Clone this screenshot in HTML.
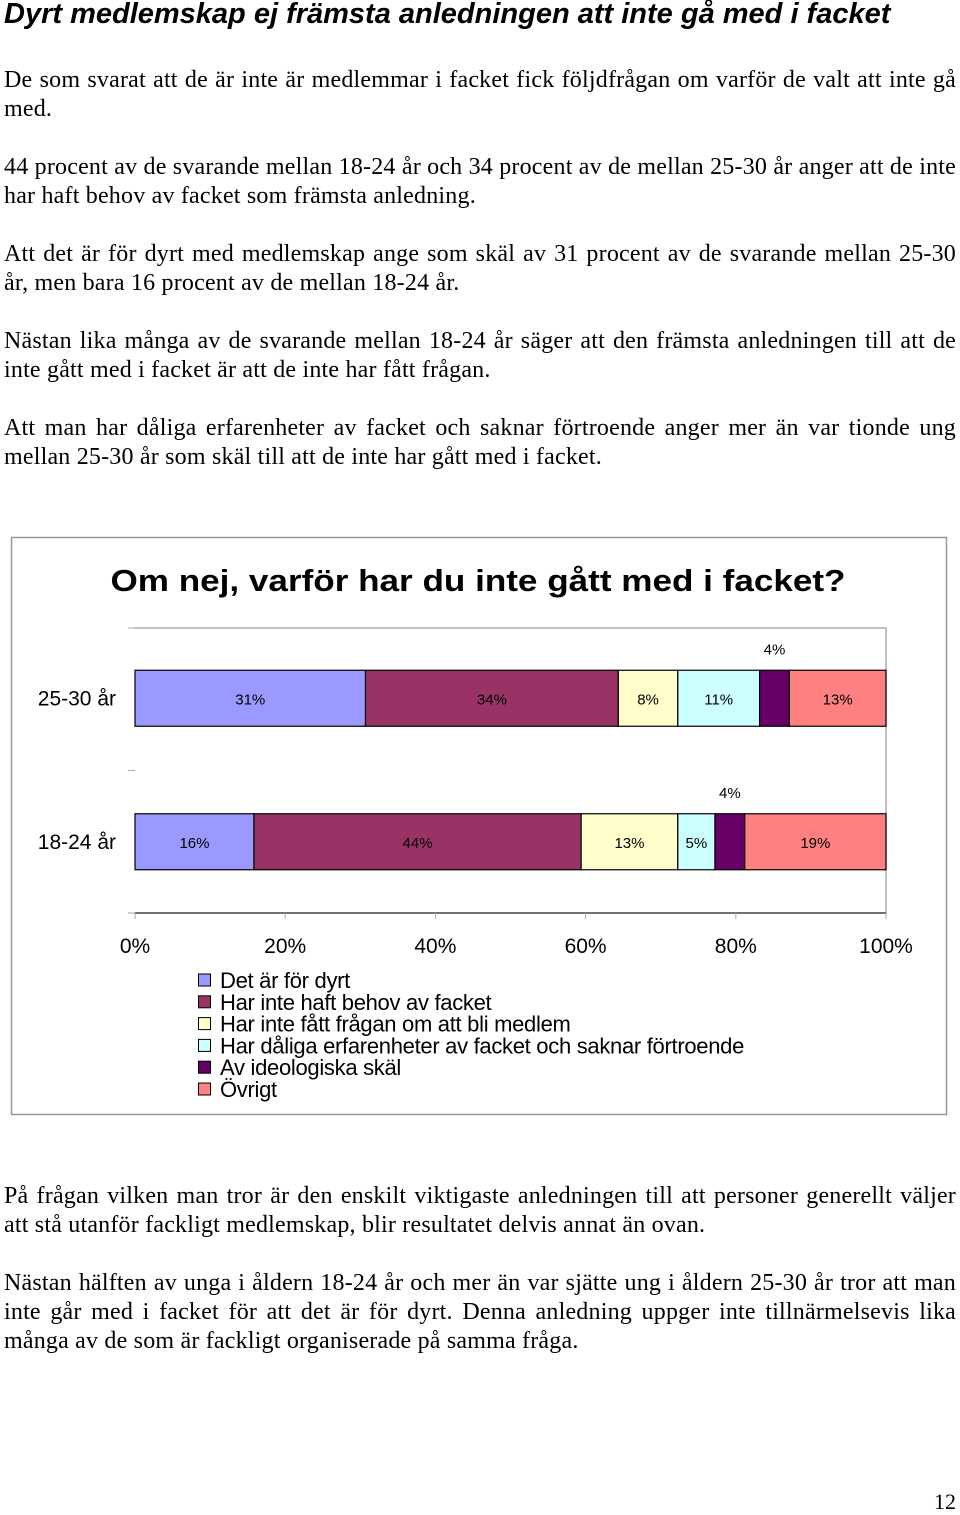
<!DOCTYPE html>
<html><head><meta charset="utf-8"><style>
body{margin:0;width:960px;height:1513px;background:#fff;position:relative;overflow:hidden}
.t{position:absolute;left:4px;top:-1px;font:bold italic 29px "Liberation Sans",sans-serif;white-space:nowrap;line-height:30px}
.p{position:absolute;left:4px;width:952px;font:24px/29px "Liberation Serif",serif;letter-spacing:0.2px;text-align:justify;margin:0;color:#000}
.pn{position:absolute;right:4px;top:1489px;font:22px "Liberation Serif",serif}
</style></head><body>
<div class="t">Dyrt medlemskap ej främsta anledningen att inte gå med i facket</div>
<p class="p" style="top:66px">De som svarat att de är inte är medlemmar i facket fick följdfrågan om varför de valt att inte gå med.</p>
<p class="p" style="top:153px">44 procent av de svarande mellan 18-24 år och 34 procent av de mellan 25-30 år anger att de inte har haft behov av facket som främsta anledning.</p>
<p class="p" style="top:240px">Att det är för dyrt med medlemskap ange som skäl av 31 procent av de svarande mellan 25-30 år, men bara 16 procent av de mellan 18-24 år.</p>
<p class="p" style="top:327px">Nästan lika många av de svarande mellan 18-24 år säger att den främsta anledningen till att de inte gått med i facket är att de inte har fått frågan.</p>
<p class="p" style="top:414px">Att man har dåliga erfarenheter av facket och saknar förtroende anger mer än var tionde ung mellan 25-30 år som skäl till att de inte har gått med i facket.</p>
<svg style="position:absolute;left:0;top:0" width="960" height="1513">
<rect x="11.5" y="537.5" width="935" height="577" fill="#fff" stroke="#999" stroke-width="1.5"/>
<text x="478" y="591" text-anchor="middle" textLength="735" lengthAdjust="spacingAndGlyphs" font-family="Liberation Sans, sans-serif" font-weight="bold" font-size="31">Om nej, varför har du inte gått med i facket?</text>
<g id="g"></g>
</svg>
<p class="p" style="top:1182px">På frågan vilken man tror är den enskilt viktigaste anledningen till att personer generellt väljer att stå utanför fackligt medlemskap, blir resultatet delvis annat än ovan.</p>
<p class="p" style="top:1269px">Nästan hälften av unga i åldern 18-24 år och mer än var sjätte ung i åldern 25-30 år tror att man inte går med i facket för att det är för dyrt. Denna anledning uppger inte tillnärmelsevis lika många av de som är fackligt organiserade på samma fråga.</p>
<div class="pn">12</div>
<script>
const categories=["25-30 år","18-24 år"];
const seriesNames=["Det är för dyrt","Har inte haft behov av facket","Har inte fått frågan om att bli medlem","Har dåliga erfarenheter av facket och saknar förtroende","Av ideologiska skäl","Övrigt"];
const values2530=[31,34,8,11,4,13];
const values1824=[16,44,13,5,4,19];
const tickLabels=["0%","20%","40%","60%","80%","100%"];
const colors=["#9999FF","#993366","#FFFFCC","#CCFFFF","#660066","#FF8080"];
const ns="http://www.w3.org/2000/svg",g=document.getElementById('g');
const X0=135,X1=886,Y0=628,Y1=913;
const xs=f=>X0+f*(X1-X0);
function mk(t,a,txt){const e=document.createElementNS(ns,t);for(const k in a)e.setAttribute(k,a[k]);if(txt!=null)e.textContent=txt;g.appendChild(e);return e;}
const fam="Liberation Sans, sans-serif";
let e=mk('path',{d:`M${X0} ${Y0}H${X1}V${Y1}`,fill:'none',stroke:'#aaa','stroke-width':1.5});

e=mk('line',{x1:X0,y1:Y1,x2:X1,y2:Y1,stroke:'#444','stroke-width':1.5});

[Y0,(Y0+Y1)/2,Y1].forEach(y=>{const t=mk('line',{x1:X0-7,y1:y,x2:X0,y2:y,stroke:'#aaa'});});
tickLabels.forEach((l,i)=>{const x=xs(i/(tickLabels.length-1));
 const t=mk('line',{x1:x,y1:Y1,x2:x,y2:Y1+6,stroke:'#aaa'});
 const s=mk('text',{x:x,y:953,'text-anchor':'middle','font-family':fam,'font-size':21},l);});
const rows=[values2530,values1824];
const band=(Y1-Y0)/rows.length;
rows.forEach((vals,r)=>{const yc=Y0+band*(r+0.5)-(r===0?1:0),h=56,y=yc-h/2;
 const tot=vals.reduce((a,b)=>a+b,0);let acc=0;
 const c=mk('text',{x:116,y:yc+7,'text-anchor':'end','font-family':fam,'font-size':21},categories[r]);
 vals.forEach((v,i)=>{const xa=xs(acc/tot),xb=xs((acc+v)/tot);acc+=v;
  const b=mk('rect',{x:xa,y:y,width:xb-xa,height:h,fill:colors[i],stroke:'#000','stroke-width':1.2});
  
  const small=(xb-xa)<30&&i===4;
  const lb=mk('text',{x:(xa+xb)/2,y:small?y-16:yc+6,'text-anchor':'middle','font-family':fam,'font-size':15},v+'%');
  });
});
seriesNames.forEach((n,i)=>{const y=974+i*21.8;
 const s=mk('rect',{x:198.5,y:y,width:12,height:12,fill:colors[i],stroke:'#000'});
 const t=mk('text',{x:220,y:y+14,'font-family':fam,'font-size':22,'letter-spacing':'-0.3'},n);});
</script>
</body></html>
